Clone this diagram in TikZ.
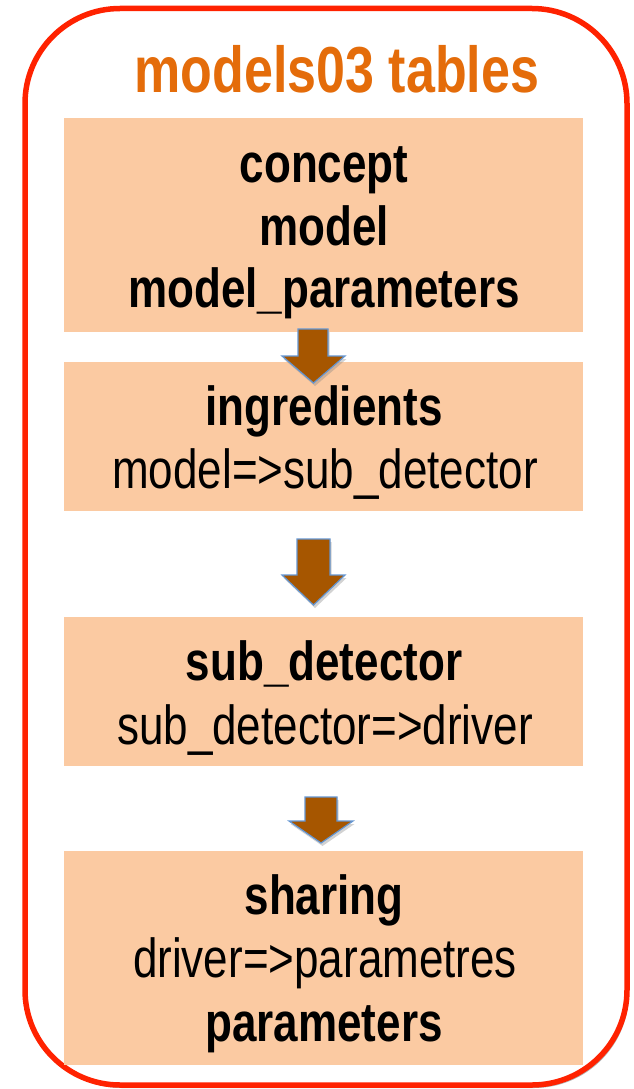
\documentclass[tikz,border=0pt]{standalone}
\usepackage{fontspec}
\setmainfont{Liberation Sans}
\usepackage{graphicx}
\usetikzlibrary{shadows}
\definecolor{framered}{RGB}{255,34,0}
\definecolor{peach}{RGB}{251,202,162}
\definecolor{titleor}{RGB}{228,108,10}
\definecolor{arrowfill}{RGB}{166,86,0}
\definecolor{arrowline}{RGB}{100,150,210}
\newcommand\vstretch[1]{\scalebox{1}[1.25]{#1}}
\tikzset{
  box/.style={fill=peach, draw=none, minimum width=519pt, inner sep=0pt},
  bold/.style={font=\fontsize{44}{44}\selectfont\bfseries, anchor=base, inner sep=0pt},
  plain/.style={font=\fontsize{44}{44}\selectfont, anchor=base, inner sep=0pt},
  blockarrow/.style={fill=arrowfill, draw=arrowline, line width=1.2pt, line join=miter,
     drop shadow={opacity=0.35, shadow xshift=1.5pt, shadow yshift=-3pt}},
}
\begin{document}
\begin{tikzpicture}[x=1pt,y=-1pt]
\useasboundingbox (0,0) rectangle (634,1089);
% frame
\draw[framered, line width=5.5pt, rounded corners=95pt,
  drop shadow={opacity=0.3, shadow xshift=2pt, shadow yshift=-3pt, fill=black}, fill=white]
  (25,8.5) rectangle (627,1085);
\node[font=\fontsize{52}{52}\selectfont\bfseries, text=titleor, anchor=base, inner sep=0pt] (title) at (337,93) {\vstretch{models03 tables}};
% boxes
\node[box, minimum height=214pt] (b1) at (323.5,225) {};
\node[box, minimum height=149pt] (b2) at (323.5,436.5) {};
\node[box, minimum height=149pt] (b3) at (323.5,691.5) {};
\node[box, minimum height=214pt] (b4) at (323.5,958) {};
% texts
\node[bold] (t1a) at (324,182) {\vstretch{concept}};
\node[bold] (t1b) at (324,245) {\vstretch{model}};
\node[bold] (t1c) at (324,307) {\vstretch{model\_parameters}};
\node[bold] (t2a) at (324,425) {\vstretch{ingredients}};
\node[plain] (t2b) at (325,488) {\vstretch{model=>sub\_detector}};
\node[bold] (t3a) at (324,680) {\vstretch{sub\_detector}};
\node[plain] (t3b) at (325,744) {\vstretch{sub\_detector=>driver}};
\node[bold] (t4a) at (324,914) {\vstretch{sharing}};
\node[plain] (t4b) at (325,977) {\vstretch{driver=>parametres}};
\node[bold] (t4c) at (324,1041) {\vstretch{parameters}};
% block arrows
\draw[blockarrow] (298,329) -- (328,329) -- (328,356) -- (345,356) -- (313.5,383) -- (282,356) -- (298,356) -- cycle;
\draw[blockarrow] (297,539) -- (330,539) -- (330,575) -- (345,575) -- (313.5,605) -- (282,575) -- (297,575) -- cycle;
\draw[blockarrow] (305,797) -- (337,797) -- (337,821) -- (353,821) -- (321,843) -- (289,821) -- (305,821) -- cycle;
\end{tikzpicture}
\end{document}
